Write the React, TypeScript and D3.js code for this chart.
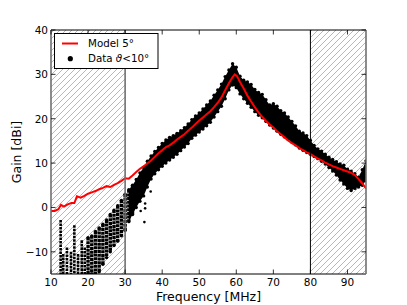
import React from "react";
import * as d3 from "d3";

// ---------- data ----------
const modelFreq = [10, 11, 12, 12.7, 13.5, 14.5, 15.5, 16.3, 17, 18, 19, 20, 21, 22, 23, 24, 25, 26, 27, 28, 29, 30, 31, 32, 33, 34, 35, 36, 37, 38, 39, 40, 41, 42, 43, 44, 45, 46, 47, 48, 49, 50, 51, 52, 53, 54, 55, 56, 57, 58, 59, 59.6, 60.2, 61, 62, 63, 64, 65, 66, 67, 68, 69, 70, 71, 72, 73, 74, 75, 76, 77, 78, 79, 80, 81, 82, 83, 84, 85, 86, 87, 88, 89, 90, 91, 92, 93, 94, 95];
const modelGain = [-0.8, -0.8, -0.4, 0.6, 0.2, 0.7, 1.0, 1.0, 2.5, 2.2, 2.6, 3.1, 3.4, 3.7, 4.1, 4.4, 4.8, 4.6, 5.1, 5.5, 6.0, 6.6, 6.5, 7.2, 8.0, 8.7, 9.3, 9.9, 10.6, 11.4, 12.2, 12.9, 13.6, 14.0, 14.6, 15.3, 15.9, 16.5, 17.3, 18.0, 18.8, 19.6, 20.3, 21.0, 21.7, 22.6, 23.6, 24.8, 26.4, 28.0, 29.4, 30.0, 29.6, 28.3, 26.8, 25.2, 23.9, 22.6, 21.4, 20.4, 19.5, 18.7, 18.0, 17.2, 16.5, 15.8, 15.1, 14.5, 14.0, 13.4, 12.9, 12.4, 12.0, 11.5, 11.0, 10.6, 10.1, 9.7, 9.3, 9.0, 8.7, 8.4, 8.1, 7.8, 7.3, 6.4, 5.4, 4.3];

const dataFreq = [20, 21, 22, 23, 24, 25, 26, 27, 28, 29, 30, 31, 32, 33, 34, 35, 36, 37, 38, 39, 40, 41, 42, 43, 44, 45, 46, 47, 48, 49, 50, 51, 52, 53, 54, 55, 56, 57, 58, 59, 60, 61, 62, 63, 64, 65, 66, 67, 68, 69, 70, 71, 72, 73, 74, 75, 76, 77, 78, 79, 80, 81, 82, 83, 84, 85, 86, 87, 88, 89, 90, 91, 92, 93, 94, 95];
const dataHigh = [-6.8, -6.4, -5.4, -4.6, -3.8, -2.8, -1.6, -0.6, 0.4, 1.6, 3.0, 4.0, 5.0, 6.3, 7.8, 9.0, 10.4, 11.6, 12.6, 13.5, 14.4, 15.2, 15.8, 16.2, 16.7, 17.3, 18.0, 18.8, 19.8, 20.6, 21.3, 22.2, 23.1, 24.0, 25.3, 26.5, 27.8, 29.5, 31.0, 32.4, 31.6, 29.6, 28.7, 28.3, 27.7, 26.6, 25.9, 25.5, 24.3, 23.1, 23.4, 22.8, 21.8, 21.3, 20.4, 19.4, 18.4, 17.2, 16.8, 16.2, 15.1, 14.0, 13.2, 12.7, 12.0, 11.3, 10.8, 10.3, 9.8, 9.5, 8.6, 8.2, 7.6, 6.8, 8.5, 10.5];
const dataLow = [-15, -15, -15, -14.5, -12.8, -11.3, -10.0, -8.6, -7.6, -6.4, -5.2, -3.2, -1.6, 0.0, 1.4, 2.6, 4.6, 6.4, 7.6, 8.5, 9.3, 10.0, 10.7, 11.3, 12.0, 12.8, 13.6, 14.4, 15.6, 16.3, 17.0, 17.7, 18.4, 19.2, 20.4, 21.6, 22.8, 24.5, 26.5, 27.6, 27.0, 25.6, 24.5, 23.5, 22.6, 21.6, 20.8, 20.2, 19.4, 18.6, 17.9, 17.2, 16.5, 15.9, 15.3, 14.7, 14.1, 13.4, 12.9, 12.4, 12.0, 11.5, 11.0, 10.4, 9.8, 9.0, 8.2, 7.3, 6.2, 5.3, 4.3, 3.8, 4.3, 4.6, 5.0, 6.0];

const spikeFreq = [12.6, 13.3, 14.3, 15.4, 16.3, 17.3, 18.3, 19.1];
const spikeTop = [-2.8, -10.5, -9.0, -10.0, -4.0, -10.5, -7.4, -9.0];

const strayFreq = [35.4, 35.4, 34.2, 36.9, 35.2];
const strayGain = [0.9, -0.2, -0.8, 3.6, -3.3];

const xTicks = [10, 20, 30, 40, 50, 60, 70, 80, 90];
const yTicks = [-10, 0, 10, 20, 30, 40];
const spans = [[10, 30], [80, 95]];

// ---------- layout ----------
const W = 407, H = 305;
const L = 51, R = 366, T = 30, B = 274;
const FONT = "DejaVu Sans";

export default function App() {
  const x = d3.scaleLinear().domain([10, 95]).range([L, R]);
  const y = d3.scaleLinear().domain([-15, 40]).range([B, T]);

  const modelLine = d3.line<number>().x((_, i) => x(modelFreq[i])).y((d) => y(d))(modelGain) || "";

  const areaIdx = dataFreq.map((_, i) => i).filter((i) => dataFreq[i] >= 31);
  const bandArea =
    d3
      .area<number>()
      .x((i) => x(dataFreq[i]))
      .y0((i) => y(dataLow[i]))
      .y1((i) => y(dataHigh[i]))(areaIdx) || "";

  const colIdx = dataFreq.map((_, i) => i).filter((i) => dataFreq[i] <= 32);

  const fmt = (v: number) => (v < 0 ? "\u2212" + Math.abs(v) : String(v));

  return (
    <svg width={W} height={H} style={{ position: "absolute", left: 0, top: 0, background: "#fff" }} fontFamily={FONT}>
      <defs>
        <pattern id="hatch" patternUnits="userSpaceOnUse" width={6} height={6}>
          <path d="M0,6 L6,0 M-1.5,1.5 L1.5,-1.5 M4.5,7.5 L7.5,4.5" stroke="#a0a0a0" strokeWidth={0.75} />
        </pattern>
        <clipPath id="plot">
          <rect x={L} y={T} width={R - L} height={B - T} />
        </clipPath>
      </defs>
      <rect x={0} y={0} width={W} height={H} fill="#fff" />

      {/* hatched spans */}
      {spans.map(([a, b], i) => (
        <rect key={i} x={x(a)} y={T} width={x(b) - x(a)} height={B - T} fill="url(#hatch)" />
      ))}

      <g clipPath="url(#plot)">
        {/* low-frequency spikes */}
        {spikeFreq.map((f, i) => (
          <line key={"s" + i} x1={x(f)} x2={x(f)} y1={y(spikeTop[i])} y2={y(-15)} stroke="#000" strokeWidth={2.6} strokeDasharray="2.6 0.9" />
        ))}
        {/* columns of data in the lower band */}
        {colIdx.map((i) => (
          <line key={"c" + i} x1={x(dataFreq[i])} x2={x(dataFreq[i])} y1={y(dataHigh[i])} y2={y(dataLow[i])} stroke="#000" strokeWidth={3.4} strokeDasharray="3 0.7" />
        ))}
        <path d={bandArea} fill="#000" />
        {dataFreq.map((f, i) => (
          <g key={"d" + i}>
            <circle cx={x(f)} cy={y(dataHigh[i])} r={1.7} fill="#000" />
            <circle cx={x(f)} cy={y(dataLow[i])} r={1.7} fill="#000" />
          </g>
        ))}
        {strayFreq.map((f, i) => (
          <circle key={"st" + i} cx={x(f)} cy={y(strayGain[i])} r={1.3} fill="#000" />
        ))}
        <path d={modelLine} fill="none" stroke="#ff0000" strokeWidth={2} />
      </g>

      {/* span edges */}
      <line x1={x(30)} x2={x(30)} y1={T} y2={B} stroke="#707070" strokeWidth={1.6} />
      <line x1={x(80)} x2={x(80)} y1={T} y2={B} stroke="#000" strokeWidth={1} />

      {/* frame */}
      <line x1={L} x2={R} y1={T} y2={T} stroke="#000" strokeWidth={1} />
      <line x1={L} x2={R} y1={B} y2={B} stroke="#000" strokeWidth={1} />
      <line x1={L} x2={L} y1={T} y2={B} stroke="#707070" strokeWidth={1.6} />
      <line x1={R} x2={R} y1={T} y2={B} stroke="#707070" strokeWidth={1.6} />

      {/* ticks */}
      {xTicks.map((t) => (
        <g key={"xt" + t}>
          <line x1={x(t)} x2={x(t)} y1={B} y2={B - 4.5} stroke="#000" strokeWidth={0.8} />
          <line x1={x(t)} x2={x(t)} y1={T} y2={T + 4.5} stroke="#000" strokeWidth={0.8} />
          <text x={x(t)} y={B + 12} fontSize={10.5} textAnchor="middle" fill="#000">
            {fmt(t)}
          </text>
        </g>
      ))}
      {yTicks.map((t) => (
        <g key={"yt" + t}>
          <line x1={L} x2={L + 4.5} y1={y(t)} y2={y(t)} stroke="#000" strokeWidth={0.8} />
          <line x1={R} x2={R - 4.5} y1={y(t)} y2={y(t)} stroke="#000" strokeWidth={0.8} />
          <text x={L - 3} y={y(t) + 3.8} fontSize={10.5} textAnchor="end" fill="#000">
            {fmt(t)}
          </text>
        </g>
      ))}

      {/* axis labels */}
      <text x={(L + R) / 2} y={301} fontSize={12.5} textAnchor="middle" fill="#000">
        Frequency [MHz]
      </text>
      <text transform={`translate(21,${(T + B) / 2}) rotate(-90)`} fontSize={12.5} textAnchor="middle" fill="#000">
        Gain [dBi]
      </text>

      {/* legend */}
      <rect x={54.5} y={33.5} width={103.5} height={35} fill="#fff" stroke="#000" strokeWidth={1} />
      <line x1={62} x2={78} y1={43.5} y2={43.5} stroke="#ff0000" strokeWidth={2} />
      <text x={88} y={47} fontSize={10.3} fill="#000">
        Model 5°
      </text>
      <circle cx={70.3} cy={58.7} r={2.6} fill="#000" />
      <text x={88} y={61.5} fontSize={10.3} fill="#000">
        Data <tspan fontStyle="italic">ϑ</tspan>{"<10°"}
      </text>
    </svg>
  );
}
